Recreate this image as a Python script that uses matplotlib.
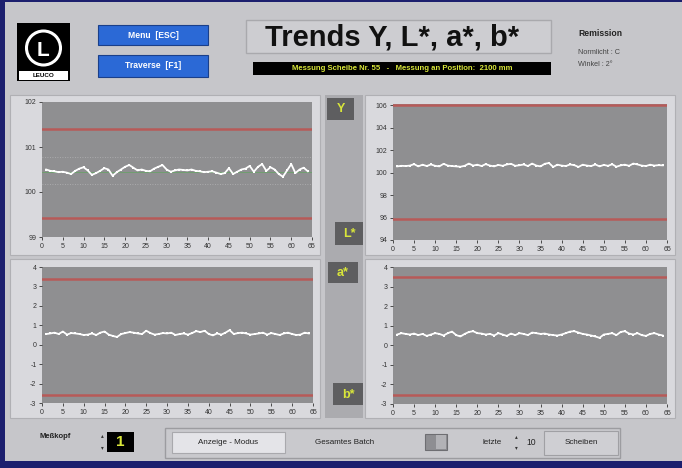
import matplotlib
matplotlib.use("Agg")
import matplotlib.pyplot as plt
from matplotlib.patches import Rectangle, Circle

W, H = 682, 468

# ---------------- data ----------------
scheibe = list(range(1, 65))
x_ticks = [0, 5, 10, 15, 20, 25, 30, 35, 40, 45, 50, 55, 60, 65]

y_L = [100.50, 100.47, 100.46, 100.44, 100.45, 100.43, 100.40, 100.47, 100.52, 100.55,
       100.48, 100.38, 100.42, 100.47, 100.53, 100.50, 100.36, 100.44, 100.50, 100.56,
       100.60, 100.54, 100.48, 100.50, 100.47, 100.46, 100.52, 100.56, 100.60, 100.50,
       100.45, 100.48, 100.50, 100.49, 100.48, 100.50, 100.47, 100.46, 100.44, 100.45,
       100.46, 100.43, 100.40, 100.42, 100.53, 100.40, 100.45, 100.50, 100.52, 100.58,
       100.45, 100.56, 100.62, 100.47, 100.55, 100.50, 100.40, 100.34, 100.48, 100.62,
       100.42, 100.50, 100.54, 100.46]
L_limits = [101.40, 99.43]
L_band = [100.78, 100.18]
L_ticks = [99, 100, 101, 102]

y_Y = [100.55, 100.60, 100.58, 100.62, 100.75, 100.55, 100.70, 100.58, 100.72, 100.60,
       100.55, 100.78, 100.62, 100.58, 100.55, 100.52, 100.60, 100.80, 100.62, 100.70,
       100.58, 100.75, 100.62, 100.55, 100.68, 100.60, 100.72, 100.78, 100.60, 100.65,
       100.72, 100.58, 100.80, 100.62, 100.55, 100.78, 100.85, 100.50, 100.70, 100.62,
       100.58, 100.72, 100.66, 100.50, 100.70, 100.62, 100.58, 100.72, 100.55, 100.68,
       100.60, 100.74, 100.52, 100.64, 100.70, 100.60, 100.80, 100.72, 100.62, 100.58,
       100.70, 100.62, 100.66, 100.64]
Y_limits = [106.0, 95.85]
Y_ticks = [94, 96, 98, 100, 102, 104, 106]

y_a = [0.55, 0.58, 0.62, 0.55, 0.68, 0.52, 0.60, 0.58, 0.55, 0.50,
       0.52, 0.58, 0.50, 0.62, 0.68, 0.52, 0.45, 0.40, 0.55, 0.60,
       0.65, 0.62, 0.58, 0.55, 0.72, 0.60, 0.52, 0.55, 0.60, 0.58,
       0.62, 0.50, 0.55, 0.58, 0.52, 0.60, 0.70, 0.65, 0.72, 0.55,
       0.48, 0.58, 0.52, 0.62, 0.75, 0.55, 0.60, 0.62, 0.58, 0.52,
       0.55, 0.58, 0.62, 0.52, 0.60, 0.55, 0.50, 0.58, 0.62, 0.55,
       0.50, 0.52, 0.62, 0.58]
a_limits = [3.38, -2.58]
ab_ticks = [-3, -2, -1, 0, 1, 2, 3, 4]

y_b = [0.55, 0.62, 0.58, 0.55, 0.60, 0.52, 0.58, 0.48, 0.55, 0.62,
       0.58, 0.50, 0.62, 0.70, 0.52, 0.45, 0.58, 0.68, 0.72, 0.62,
       0.60, 0.55, 0.58, 0.50, 0.62, 0.55, 0.48, 0.60, 0.52, 0.62,
       0.58, 0.52, 0.65, 0.62, 0.58, 0.60, 0.55, 0.52, 0.50, 0.55,
       0.62, 0.70, 0.72, 0.65, 0.58, 0.55, 0.50, 0.45, 0.38, 0.55,
       0.58, 0.62, 0.52, 0.68, 0.72, 0.60, 0.55, 0.62, 0.52, 0.48,
       0.58, 0.62, 0.55, 0.50]
b_limits = [3.48, -2.56]

# ---------------- styling ----------------
BG = "#c6c6ca"
PANEL = "#d9d9dd"
PLOT_BG = "#8f8f91"
RED = "#b75a58"
NAVY = "#1c1f6e"
BLUE = "#2b69d6"
LABEL_BOX = "#5e5e60"
YELLOW = "#d9e63a"

plt.rcParams["font.family"] = ["Liberation Sans", "DejaVu Sans"]
plt.rcParams["axes.unicode_minus"] = False

fig = plt.figure(figsize=(W / 100, H / 100), dpi=100)
fig.patch.set_facecolor(BG)

bg = fig.add_axes([0, 0, 1, 1], zorder=0)
bg.set_xlim(0, W)
bg.set_ylim(H, 0)
bg.axis("off")


def rect(x0, y0, x1, y1, fc, ec="none", lw=0.8, **kw):
    bg.add_patch(Rectangle((x0, y0), x1 - x0, y1 - y0, facecolor=fc,
                           edgecolor=ec, linewidth=lw, **kw))


def txt(x, y, s, **kw):
    bg.text(x, y, s, **kw)


# outer window frame
rect(0, 0, W, H, BG)
rect(0, 0, 5, H, NAVY)
rect(0, 461, W, H, NAVY)
rect(0, 0, W, 2, NAVY)

# logo
rect(17, 23, 70, 81, "black")
bg.add_patch(Circle((43.5, 48), 17, facecolor="black", edgecolor="white", linewidth=2.2))
txt(43.5, 50, "L", color="white", fontsize=15, fontweight="bold", ha="center", va="center")
rect(19, 71, 68, 80, "white")
txt(43.5, 75.5, "LEUCO", color="black", fontsize=4.5, fontweight="bold", ha="center", va="center")

# buttons
rect(98, 25, 208, 45, BLUE, ec="#1a3f8a", lw=0.8)
txt(153, 35, "Menu  [ESC]", color="white", fontsize=6.2, fontweight="bold", ha="center", va="center")
rect(98, 55, 208, 77, BLUE, ec="#1a3f8a", lw=0.8)
txt(153, 66, "Traverse  [F1]", color="white", fontsize=6.2, fontweight="bold", ha="center", va="center")

# title
rect(246, 20, 551, 53, "#cdcdd1", ec="#a9a9ad", lw=1)
txt(392, 37, "Trends Y, L*, a*, b*", color="#111111", fontsize=21, fontweight="bold",
    ha="center", va="center")
rect(253, 62, 551, 75, "black")
txt(402, 68.5, "Messung Scheibe Nr. 55   -   Messung an Position:  2100 mm", color=YELLOW,
    fontsize=5.6, fontweight="bold", ha="center", va="center")

# right info
txt(578, 34, "Remission", color="#222222", fontsize=6.2, fontweight="bold", va="center")
txt(578, 53, "Normlicht : C", color="#444444", fontsize=5.2, va="center")
txt(578, 64, "Winkel : 2°", color="#444444", fontsize=5.2, va="center")

# chart panels
rect(10, 95, 320, 255, PANEL, ec="#b0b0b4")
rect(365, 95, 675, 255, PANEL, ec="#b0b0b4")
rect(10, 259, 320, 418, PANEL, ec="#b0b0b4")
rect(365, 259, 675, 418, PANEL, ec="#b0b0b4")

# middle strip with channel labels
rect(325, 95, 363, 418, "#ababaf")
for (x0, y0, x1, y1, s) in [(327, 98, 354, 120, "Y"), (335, 222, 363, 245, "L*"),
                            (328, 262, 358, 283, "a*"), (333, 383, 363, 405, "b*")]:
    rect(x0, y0, x1, y1, LABEL_BOX)
    txt((x0 + x1) / 2, (y0 + y1) / 2 + 0.5, s, color=YELLOW, fontsize=9, fontweight="bold",
        ha="center", va="center")

# bottom control bar
txt(40, 437, "Meßkopf", color="#222222", fontsize=5.5, fontweight="bold", va="center")
txt(102, 436, "▴", color="#333333", fontsize=4, ha="center", va="center")
txt(102, 448, "▾", color="#333333", fontsize=4, ha="center", va="center")
rect(107, 432, 134, 452, "black")
txt(120.5, 442, "1", color=YELLOW, fontsize=11, fontweight="bold", ha="center", va="center")

rect(165, 428, 620, 458, "#c9c9cd", ec="#9c9ca0", lw=1)
rect(172, 432, 285, 453, "#e4e4e8", ec="#a9a9ad")
txt(228, 442.5, "Anzeige - Modus", color="#222222", fontsize=5.8, ha="center", va="center")
txt(345, 442.5, "Gesamtes Batch", color="#222222", fontsize=5.8, ha="center", va="center")
rect(425, 434, 447, 450, "#8e8e92", ec="#6e6e72")
rect(436, 435, 446, 449, "#b2b2b6")
txt(492, 442.5, "letzte", color="#222222", fontsize=5.8, ha="center", va="center")
txt(516, 437, "▴", color="#333333", fontsize=4, ha="center", va="center")
txt(516, 448, "▾", color="#333333", fontsize=4, ha="center", va="center")
txt(531, 442.5, "10", color="#222222", fontsize=6.2, ha="center", va="center")
rect(544, 431, 618, 455, "#cfcfd3", ec="#a0a0a4")
txt(581, 443, "Scheiben", color="#222222", fontsize=5.8, ha="center", va="center")


def add_plot(box, ydata, ylim, yticks, limits, band=None):
    x0, y0, x1, y1 = box
    ax = fig.add_axes([x0 / W, 1 - y1 / H, (x1 - x0) / W, (y1 - y0) / H], zorder=2)
    ax.set_facecolor(PLOT_BG)
    ax.set_xlim(0, 65)
    ax.set_ylim(*ylim)
    for lim in limits:
        ax.axhline(lim, color=RED, linewidth=1.8)
    if band is not None:
        for b in band:
            ax.axhline(b, color="#b4b4b6", linewidth=0.6, linestyle=(0, (1, 2)))
        ax.axhline(sum(ydata) / len(ydata) - 0.03, color="#6aa06a", linewidth=0.6)
    ax.plot(scheibe, ydata, color="white", linewidth=1.3)
    ax.plot(scheibe, ydata, linestyle="none", marker="s", markersize=2.0,
            color="white", markeredgewidth=0)
    ax.set_xticks(x_ticks)
    ax.set_yticks(yticks)
    ax.tick_params(axis="both", labelsize=5, colors="#333333", length=2.5, width=0.6, pad=1.5)
    for s in ax.spines.values():
        s.set_visible(False)
    return ax


add_plot((42, 102, 312, 237), y_L, (99, 102), L_ticks, L_limits, band=L_band)
add_plot((393, 104, 667, 240), y_Y, (94, 106.1), Y_ticks, Y_limits)
add_plot((42, 267, 313, 403), y_a, (-3, 4), ab_ticks, a_limits)
add_plot((393, 267, 667, 404), y_b, (-3, 4), ab_ticks, b_limits)

fig.savefig("out.png", dpi=100, facecolor=fig.get_facecolor())
